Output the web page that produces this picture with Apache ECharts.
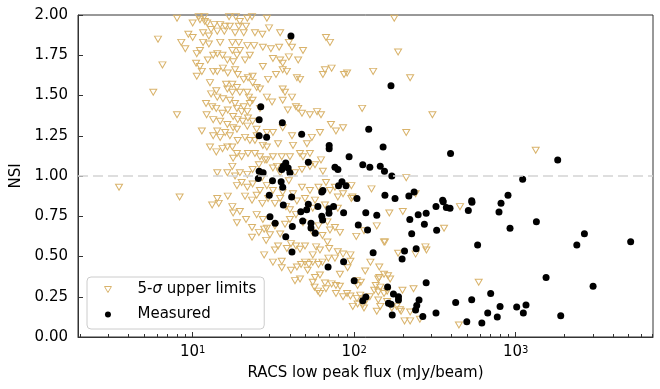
<!DOCTYPE html>
<html>
<head>
<meta charset="utf-8">
<script src="https://cdn.jsdelivr.net/npm/echarts@6/dist/echarts.min.js"></script>
<style>
  html, body { margin: 0; padding: 0; background: #fff; }
  #main { width: 660px; height: 389px; }
</style>
</head>
<body>
<div id="main"></div>
<script>
// [RACS low peak flux (mJy/beam), NSI] for sources with only a 5-sigma upper limit
const upperLimits = [
  [8.0,1.98],[10.0,1.95],[10.9,1.99],[11.1,1.97],[11.8,1.99],[11.9,1.96],[12.3,1.95],[13.0,1.91],[14.2,1.90],[14.8,1.94],
  [15.7,1.90],[15.9,1.93],[16.8,1.99],[17.0,1.93],[18.5,1.99],[19.3,1.93],[21.4,1.93],[21.8,1.98],[23.3,1.99],[28.8,1.98],
  [29.7,1.92],[34.8,1.89],[9.4,1.88],[10.0,1.86],[11.6,1.89],[12.6,1.87],[18.3,1.89],[20.7,1.89],[24.3,1.89],[27.0,1.88],
  [177,1.98],[66.9,1.86],[6.1,1.85],[13.6,1.94],[19.6,1.96],
  [8.5,1.83],[9.0,1.79],[11.6,1.83],[12.6,1.82],[14.8,1.83],[17.6,1.83],[19.3,1.83],[21.8,1.81],[17.6,1.78],[19.6,1.78],
  [27.2,1.80],[30.5,1.79],[34.3,1.80],[39.4,1.83],[48.2,1.78],[11.1,1.78],[10.6,1.76],[13.4,1.75],[14.2,1.76],[15.3,1.75],
  [16.4,1.72],[17.8,1.71],[21.1,1.72],[22.6,1.75],[31.4,1.73],[34.8,1.72],[39.4,1.74],[45.0,1.72],[36.1,1.70],[10.5,1.70],
  [187,1.77],[70.8,1.83],[24.0,1.81],[41.2,1.80],[18.8,1.75],[12.4,1.72],
  [6.5,1.69],[11.1,1.68],[11.4,1.65],[10.6,1.62],[13.4,1.65],[14.2,1.65],[15.4,1.67],[16.5,1.64],[18.3,1.66],[19.0,1.63],
  [20.7,1.60],[22.0,1.61],[23.5,1.62],[23.5,1.58],[24.9,1.55],[26.1,1.54],[27.2,1.68],[36.1,1.66],[38.3,1.65],[44.2,1.61],
  [46.2,1.60],[65.9,1.66],[64.0,1.63],[72.5,1.67],[86.5,1.63],[90.4,1.64],[131,1.65],[222,1.61],[16.1,1.57],[12.8,1.58],
  [17.6,1.57],[29.3,1.60],[32.8,1.63],
  [5.7,1.52],[13.0,1.51],[14.0,1.53],[14.2,1.49],[15.4,1.48],[16.4,1.54],[17.6,1.52],[18.8,1.55],[19.6,1.52],[21.8,1.52],
  [22.3,1.49],[23.5,1.47],[17.0,1.47],[18.3,1.45],[28.8,1.49],[36.1,1.54],[37.3,1.52],[36.1,1.47],[41.2,1.49],[43.6,1.43],
  [45.0,1.42],[47.5,1.39],[53.2,1.38],[58.9,1.40],[62.3,1.38],[112,1.42],[20.7,1.43],[22.6,1.45],[26.1,1.42],[12.1,1.45],
  [31.0,1.46],[38.8,1.41],
  [8.0,1.38],[13.2,1.43],[14.0,1.42],[15.3,1.39],[16.5,1.41],[18.8,1.42],[20.1,1.40],[21.8,1.40],[17.8,1.37],[19.0,1.35],
  [20.4,1.34],[22.0,1.36],[12.2,1.38],[13.4,1.35],[14.8,1.34],[16.4,1.32],[17.8,1.30],[18.8,1.29],[21.8,1.31],[24.9,1.29],
  [28.8,1.27],[31.4,1.27],[36.1,1.30],[41.2,1.25],[51.0,1.20],[54.7,1.24],[61.4,1.27],[71.8,1.32],[77.1,1.28],[85.3,1.30],
  [210,1.27],[305,1.38],[11.4,1.28],[14.2,1.28],[23.5,1.34],[15.9,1.27],
  [13.4,1.25],[14.8,1.24],[17.0,1.25],[19.0,1.22],[21.1,1.24],[22.6,1.22],[24.3,1.22],[27.2,1.19],[28.8,1.18],[12.8,1.18],
  [14.0,1.15],[15.3,1.17],[16.4,1.18],[17.6,1.18],[18.8,1.14],[20.1,1.12],[22.0,1.14],[24.3,1.14],[26.1,1.12],[28.8,1.10],
  [31.4,1.12],[35.6,1.12],[40.0,1.12],[46.2,1.14],[48.2,1.12],[53.2,1.14],[41.8,1.19],[1330,1.16],[33.8,1.20],[24.9,1.25],
  [17.8,1.11],
  [14.2,1.02],[16.4,1.02],[17.6,1.06],[19.6,1.02],[21.8,1.01],[23.5,1.04],[25.7,1.07],[28.0,1.10],[31.4,1.05],[33.3,1.06],
  [34.8,1.02],[43.0,1.02],[47.5,1.04],[53.2,1.06],[57.2,1.07],[62.3,1.10],[64.0,1.03],[18.8,0.94],[20.1,0.96],[21.8,0.93],
  [23.5,0.95],[26.1,0.91],[28.8,0.94],[31.4,0.91],[36.1,0.90],[41.8,0.89],[47.5,0.93],[53.2,0.91],[60.1,0.93],[66.9,0.96],
  [210,0.99],[3.5,0.93],[18.3,1.00],[39.4,0.97],[26.9,0.99],
  [70.8,0.91],[76.0,0.93],[96.1,0.94],[85.3,0.89],[79.2,0.87],[97.5,0.87],[128,0.92],[240,0.89],[96,0.86],[79.2,0.80],
  [165,0.77],[200,0.78],[8.3,0.87],[13.2,0.82],[14.2,0.86],[14.5,0.83],[17.6,0.81],[19.6,0.78],[16.5,0.875],[21.1,0.875],
  [23.3,0.85],[24.9,0.88],[27.0,0.83],[29.3,0.86],[32.3,0.83],[34.8,0.86],[37.8,0.81],[44.2,0.845],[49.6,0.86],[57.2,0.85],
  [65.9,0.82],[55.4,0.80],[40,0.79],[452,0.81],
  [17.8,0.77],[18.8,0.71],[23.3,0.68],[23.3,0.62],[24.9,0.76],[27.2,0.73],[28.8,0.675],[30.1,0.635],[27.7,0.67],[32.3,0.69],
  [34.8,0.64],[37.3,0.70],[40,0.73],[43.6,0.76],[48.2,0.71],[55.4,0.65],[60.1,0.69],[63.6,0.63],[68.3,0.715],[76.0,0.68],
  [81.6,0.65],[70.8,0.665],[103,0.625],[115,0.66],[138,0.69],[360,0.675],[68.3,0.59],[153,0.59],[25.7,0.65],[21.4,0.73],
  [27.7,0.51],[28.5,0.60],[32.3,0.54],[33.8,0.565],[38.3,0.55],[40.6,0.58],[43.6,0.565],[46.2,0.545],[49.6,0.565],[55.4,0.51],
  [58.1,0.56],[61.4,0.54],[35.6,0.47],[35.6,0.43],[40.6,0.415],[44.2,0.435],[46.9,0.45],[49.6,0.465],[52.4,0.45],[55.4,0.465],
  [60.1,0.45],[63.6,0.465],[70.0,0.55],[79.2,0.53],[85.3,0.515],[94.8,0.51],[94.8,0.47],[91.0,0.43],[76.0,0.49],[69.2,0.49],
  [126,0.465],[143,0.435],[117,0.41],[81.6,0.39],[155,0.59],[187,0.52],[240,0.515],[276,0.56],[280,0.54],[31.4,0.465],
  [46.2,0.36],[57.2,0.37],[61.4,0.385],[55.4,0.34],[56.8,0.31],[59.7,0.285],[61.4,0.27],[65.9,0.335],[66.9,0.30],[72.5,0.33],
  [77.1,0.32],[81.6,0.315],[77.1,0.27],[85.3,0.25],[90.4,0.27],[94.8,0.255],[104,0.24],[109,0.26],[105,0.32],[110,0.34],
  [104,0.35],[141,0.36],[143,0.37],[153,0.39],[162,0.38],[167,0.36],[136,0.32],[133,0.29],[141,0.28],[145,0.31],
  [153,0.27],[160,0.285],[199,0.29],[233,0.30],[125,0.25],[590,0.34],[51.5,0.415],[43.0,0.35],
  [119,0.23],[141,0.23],[105,0.205],[113,0.20],[115,0.18],[138,0.16],[145,0.19],[171,0.18],[183,0.19],[192,0.17],
  [195,0.16],[222,0.155],[205,0.10],[222,0.10],[255,0.11],[445,0.075],[160,0.22],[98,0.19]
];

// [RACS low peak flux (mJy/beam), NSI] for measured sources
const measured = [
  [40.6,1.87],[169,1.56],[26.4,1.43],[25.8,1.35],[35.9,1.33],[123,1.29],[47.3,1.26],[25.8,1.25],[28.7,1.24],[70,1.19],
  [70,1.17],[151,1.18],[395,1.14],[93,1.12],[1820,1.10],[52,1.085],[37.7,1.08],[113,1.07],[36.4,1.06],[39,1.05],
  [76,1.055],[79.3,1.04],[125,1.055],[145,1.06],[154,1.03],[25.8,1.03],[27.3,1.02],[35.6,1.04],[40,1.02],[171,1.00],
  [25.5,0.985],[31.2,0.97],[35.3,0.965],[1104,0.98],[84,0.965],[80,0.94],[89,0.94],[36.1,0.93],[63,0.90],[64,0.91],
  [29.8,0.88],[41,0.87],[155,0.88],[179,0.86],[218,0.876],[235,0.90],[896,0.88],[104,0.86],[353,0.85],[534,0.847],
  [321,0.81],[356,0.84],[372,0.805],[392,0.80],[509,0.785],[536,0.837],[788,0.776],[811,0.83],[86,0.772],[118,0.772],
  [138,0.756],[221,0.73],[249,0.76],[279,0.768],[36.4,0.82],[52,0.824],[46.7,0.778],[50.8,0.79],[59.6,0.81],[63,0.75],
  [63.8,0.727],[30.1,0.747],[32.4,0.706],[41.4,0.687],[48,0.72],[54,0.706],[54,0.677],[69.8,0.797],[74.5,0.81],[69.8,0.768],
  [106,0.696],[121,0.665],[272,0.70],[324,0.663],[227,0.642],[922,0.675],[1343,0.716],[2663,0.642],[2390,0.571],[5150,0.592],
  [581,0.571],[57.4,0.644],[37.7,0.623],[131,0.524],[205,0.534],[198,0.484],[242,0.548],[41.2,0.528],[86,0.468],[68.9,0.435],
  [1542,0.37],[3013,0.315],[100,0.35],[279,0.337],[161,0.31],[175,0.267],[188,0.25],[188,0.23],[118,0.248],[113,0.225],
  [163,0.209],[169,0.203],[252,0.23],[244,0.195],[240,0.168],[172,0.137],[266,0.128],[321,0.149],[425,0.215],[534,0.232],
  [700,0.27],[800,0.19],[671,0.149],[769,0.124],[498,0.095],[617,0.087],[1014,0.186],[1158,0.199],[1115,0.149],[1900,0.132]
];

const xRange = [1.95, 7080];
const yRange = [0, 2];
const yStep = 0.25;
const majorTicks = [10, 100, 1000];
const minorTicks = [2, 3, 4, 5, 6, 7, 8, 9, 20, 30, 40, 50, 60, 70, 80, 90,
  200, 300, 400, 500, 600, 700, 800, 900, 2000, 3000, 4000, 5000, 6000, 7000];
const nsiReference = 1;

const limitName = '5-σ upper limits';
const measuredName = 'Measured';
const font = 'DejaVu Sans';
const axisColor = '#333';
const limitColor = '#d9b36b';
const triangleDown = 'path://M0,0L10,0L5,8.66Z';

const chart = echarts.init(document.getElementById('main'));

const option = {
  animation: false,
  textStyle: { fontFamily: font },
  grid: {
    left: 78, right: 7, top: 15, bottom: 52,
    show: true, borderColor: axisColor, borderWidth: 1, backgroundColor: 'transparent'
  },
  legend: {
    orient: 'vertical',
    left: 87, top: 277,
    padding: [5, 8, 7, 17],
    itemWidth: 7, itemHeight: 6, itemGap: 10,
    backgroundColor: 'rgba(255,255,255,0.8)',
    borderColor: '#cccccc', borderWidth: 1, borderRadius: 4,
    textStyle: {
      fontFamily: font, fontSize: 15, color: '#000', padding: [0, 0, 0, 21],
      rich: { i: { fontFamily: font, fontSize: 15, fontStyle: 'italic', color: '#000' } }
    },
    formatter: name => name === limitName ? '5-{i|σ} upper limits' : name,
    data: [{
      name: limitName,
      icon: triangleDown,
      itemStyle: { color: 'rgba(255,255,255,0)', borderColor: limitColor, borderWidth: 1, opacity: 1 }
    }, {
      name: measuredName,
      icon: 'circle',
      itemStyle: { color: '#000', borderWidth: 0, opacity: 1 }
    }]
  },
  xAxis: [{
    type: 'log', logBase: 10,
    min: xRange[0], max: xRange[1],
    name: 'RACS low peak flux (mJy/beam)',
    nameLocation: 'middle', nameGap: 29,
    nameTextStyle: { fontFamily: font, fontSize: 15, color: '#000' },
    axisLine: { lineStyle: { color: axisColor } },
    axisTick: { inside: true, length: 5, customValues: majorTicks, lineStyle: { color: axisColor } },
    axisLabel: {
      customValues: majorTicks,
      margin: 8,
      fontFamily: font, fontSize: 15, color: '#000',
      formatter: v => {
        const e = Math.log10(v);
        const r = Math.round(e);
        if (Math.abs(e - r) > 1e-6) return '';
        return '10{sup|' + r + '}';
      },
      rich: { sup: { fontFamily: font, fontSize: 10, color: '#000', verticalAlign: 'top' } }
    },
    splitLine: { show: false }
  }, {
    type: 'log', logBase: 10,
    min: xRange[0], max: xRange[1],
    position: 'bottom',
    axisLine: { show: false },
    axisTick: { inside: true, length: 3, customValues: minorTicks, lineStyle: { color: axisColor } },
    axisLabel: { show: false },
    splitLine: { show: false }
  }],
  yAxis: {
    type: 'value',
    min: yRange[0], max: yRange[1], interval: yStep,
    name: 'NSI', nameLocation: 'middle', nameGap: 52,
    nameTextStyle: { fontFamily: font, fontSize: 15, color: '#000' },
    axisLine: { show: true, lineStyle: { color: axisColor } },
    axisTick: { show: true, inside: true, length: 5, lineStyle: { color: axisColor } },
    axisLabel: { formatter: v => v.toFixed(2), fontFamily: font, fontSize: 15, color: '#000', margin: 10 },
    splitLine: { show: false }
  },
  series: [{
    name: limitName,
    type: 'scatter',
    symbol: triangleDown,
    symbolSize: [7, 6],
    itemStyle: { color: 'rgba(255,255,255,0)', borderColor: limitColor, borderWidth: 1, opacity: 1 },
    emphasis: { disabled: true },
    data: upperLimits,
    markLine: {
      silent: true, symbol: 'none',
      label: { show: false },
      lineStyle: { color: '#d3d3d3', type: [10, 5], width: 1.5, opacity: 1 },
      data: [{ yAxis: nsiReference }]
    },
    z: 2
  }, {
    name: measuredName,
    type: 'scatter',
    symbol: 'circle',
    symbolSize: 7,
    itemStyle: { color: '#000', opacity: 1 },
    emphasis: { disabled: true },
    data: measured,
    z: 3
  }]
};

chart.setOption(option);
</script>
</body>
</html>
